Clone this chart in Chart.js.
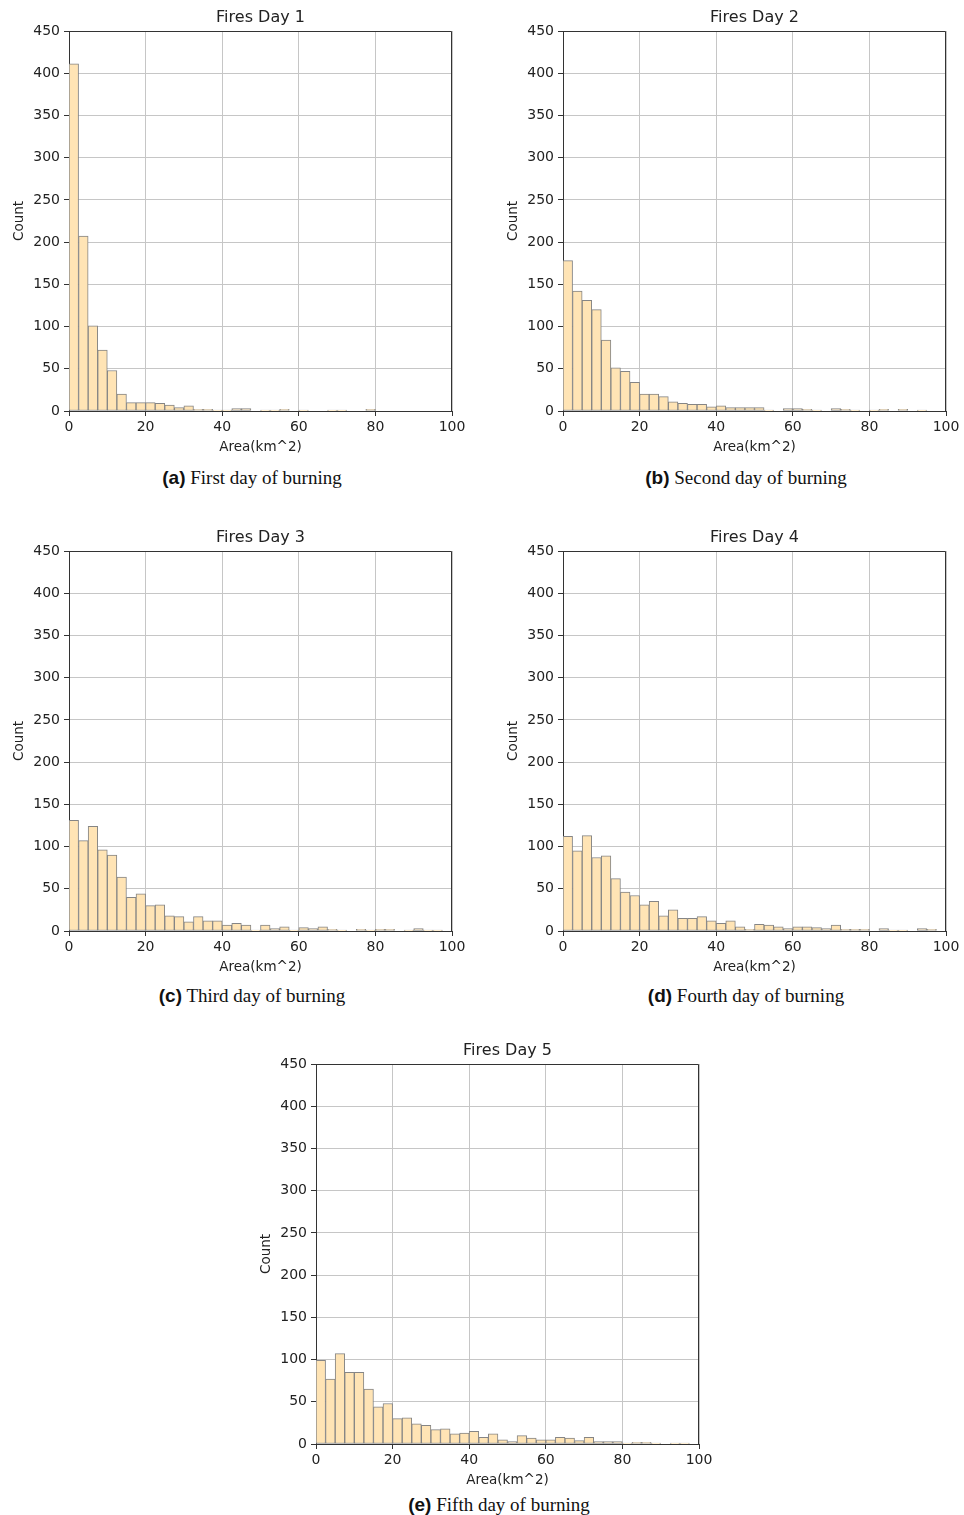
<!DOCTYPE html>
<html>
<head>
<meta charset="utf-8">
<script src="https://cdn.jsdelivr.net/npm/chart.js"></script>
<style>
  body { margin: 0; background: #fff; width: 964px; height: 1515px; position: relative; overflow: hidden; }
  canvas { position: absolute; }
  .cap { position: absolute; width: 400px; margin-left: -200px; text-align: center;
         font-family: "Liberation Serif", "Times New Roman", serif; font-size: 19px; line-height: 24px; color: #111; }
  .cap b { font-family: "Liberation Sans", Arial, sans-serif; font-weight: bold; }
</style>
</head>
<body>
<canvas id="c1" width="480" height="460" style="left:0px;top:0px"></canvas>
<canvas id="c2" width="480" height="460" style="left:494px;top:0px"></canvas>
<canvas id="c3" width="480" height="460" style="left:0px;top:520px"></canvas>
<canvas id="c4" width="480" height="460" style="left:494px;top:520px"></canvas>
<canvas id="c5" width="480" height="460" style="left:247px;top:1033px"></canvas>

<div class="cap" style="left:252px;top:466px"><b>(a)</b> First day of burning</div>
<div class="cap" style="left:746px;top:466px"><b>(b)</b> Second day of burning</div>
<div class="cap" style="left:252px;top:984px"><b>(c)</b> Third day of burning</div>
<div class="cap" style="left:746px;top:984px"><b>(d)</b> Fourth day of burning</div>
<div class="cap" style="left:499px;top:1493px"><b>(e)</b> Fifth day of burning</div>

<script>
// histogram counts, 40 bins of 2.5 km^2 from 0 to 100
const binWidth = 2.5;
const day1 = [411,207,101,72,48,20,10,10,10,9,7,4,6,2,2,1,1,3,3,0,1,1,2,0,1,0,0,1,1,0,0,2,0,0,0,0,0,0,0,0];
const day2 = [178,142,131,120,84,51,47,34,20,20,17,11,9,8,8,5,6,4,4,4,4,1,0,3,3,2,1,0,3,2,1,0,1,2,0,2,0,1,0,0];
const day3 = [131,107,124,96,90,64,40,44,30,31,18,17,11,17,12,12,7,9,7,1,7,3,5,1,4,3,5,2,1,0,2,1,2,2,0,1,3,1,1,0];
const day4 = [112,95,113,87,89,62,46,42,31,35,18,25,15,15,17,12,9,12,5,2,8,7,5,3,5,5,4,3,7,2,2,2,0,3,1,1,0,3,2,0];
const day5 = [99,77,107,85,85,65,44,48,30,31,24,22,17,18,12,13,15,8,12,5,3,10,7,5,5,8,7,4,8,3,3,3,1,2,2,1,0,1,1,0];

const titles = ['Fires Day 1', 'Fires Day 2', 'Fires Day 3', 'Fires Day 4', 'Fires Day 5'];
const xTicks = [0, 20, 40, 60, 80, 100];
const yMax = 450;
const yStep = 50;

const textColor = '#222';
const gridColor = '#c6c6c6';
const axisColor = '#333';

// top/right spines plus a title centred over the axes, like matplotlib
const framePlugin = {
  id: 'frame',
  afterDatasetsDraw(chart) {
    const { ctx, chartArea: a } = chart;
    ctx.save();
    ctx.strokeStyle = axisColor;
    ctx.lineWidth = 1;
    ctx.beginPath();
    ctx.moveTo(Math.round(a.left) + 0.5, Math.round(a.top) + 0.5);
    ctx.lineTo(Math.round(a.right) - 0.5, Math.round(a.top) + 0.5);
    ctx.lineTo(Math.round(a.right) - 0.5, Math.round(a.bottom) + 0.5);
    ctx.stroke();
    ctx.restore();
  },
  afterDraw(chart, args, opts) {
    const { ctx, chartArea: a } = chart;
    ctx.save();
    ctx.fillStyle = textColor;
    ctx.font = '16px "DejaVu Sans"';
    ctx.textAlign = 'center';
    ctx.textBaseline = 'middle';
    ctx.fillText(opts.text, (a.left + a.right) / 2, a.top - 13);
    ctx.restore();
  }
};

function makeHist(id, title, counts) {
  const points = counts.map((v, i) => ({ x: i * binWidth + binWidth / 2, y: v }));
  return new Chart(document.getElementById(id), {
    type: 'bar',
    data: {
      datasets: [{
        data: points,
        backgroundColor: '#ffe4b5',
        borderColor: '#858585',
        borderWidth: 1,
        borderSkipped: false,
        barPercentage: 1,
        categoryPercentage: 1
      }]
    },
    options: {
      responsive: false,
      animation: false,
      devicePixelRatio: 1,
      layout: { padding: { left: 0, right: 28, top: 31, bottom: 0 } },
      plugins: {
        legend: { display: false },
        tooltip: { enabled: false },
        title: { display: false },
        frame: { text: title }
      },
      scales: {
        x: {
          type: 'linear',
          min: 0,
          max: 100,
          offset: false,
          afterBuildTicks: s => { s.ticks = xTicks.map(v => ({ value: v })); },
          afterFit: s => { s.height = 49; },
          ticks: { color: textColor, font: { family: 'DejaVu Sans', size: 14 }, padding: 3, maxRotation: 0 },
          grid: { color: gridColor, lineWidth: 1, offset: false, drawTicks: true, tickLength: 5, tickColor: axisColor },
          border: { display: true, color: axisColor, width: 1 },
          title: {
            display: true, text: 'Area(km^2)', color: textColor,
            font: { family: 'DejaVu Sans', size: 13.5 }, padding: { top: 0, bottom: 4 }
          }
        },
        y: {
          min: 0,
          max: yMax,
          afterFit: s => { s.width = 69; },
          ticks: { stepSize: yStep, color: textColor, font: { family: 'DejaVu Sans', size: 14 }, padding: 4 },
          grid: { color: gridColor, lineWidth: 1, drawTicks: true, tickLength: 5, tickColor: axisColor },
          border: { display: true, color: axisColor, width: 1 },
          title: {
            display: true, text: 'Count', color: textColor,
            font: { family: 'DejaVu Sans', size: 13.5 }, padding: { top: 11, bottom: 0 }
          }
        }
      }
    },
    plugins: [framePlugin]
  });
}

makeHist('c1', titles[0], day1);
makeHist('c2', titles[1], day2);
makeHist('c3', titles[2], day3);
makeHist('c4', titles[3], day4);
makeHist('c5', titles[4], day5);
</script>
</body>
</html>
